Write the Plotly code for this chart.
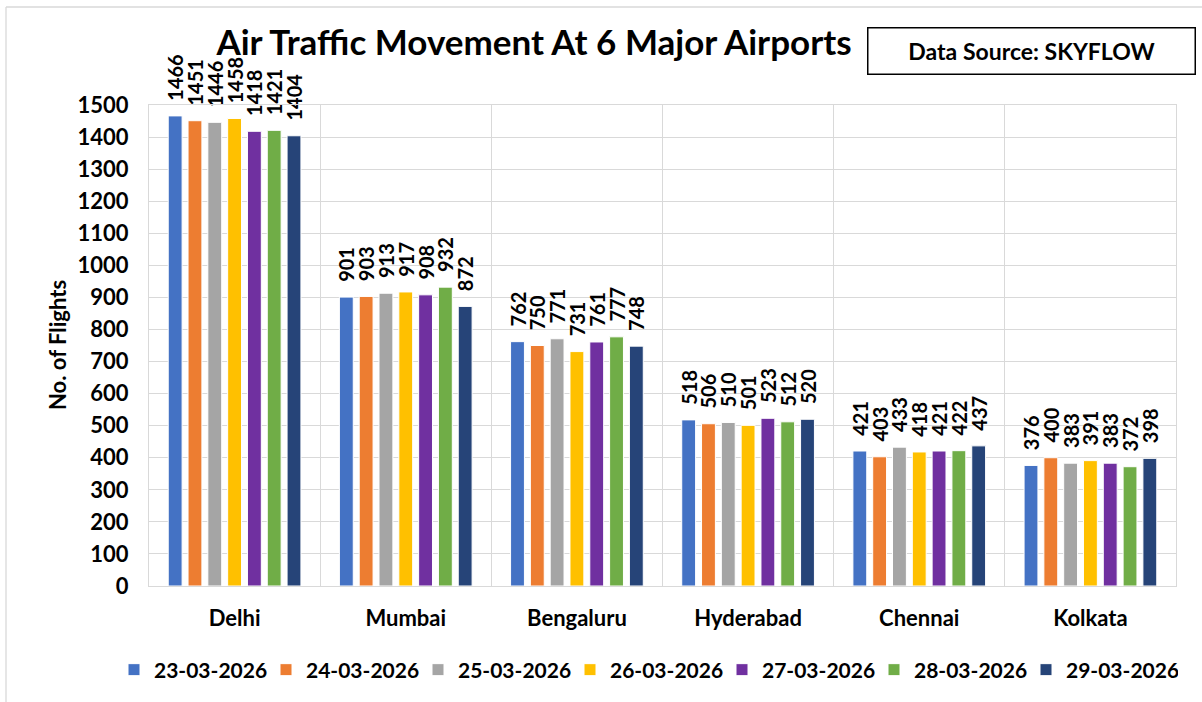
import plotly.graph_objects as go

airports = ["Delhi", "Mumbai", "Bengaluru", "Hyderabad", "Chennai", "Kolkata"]
dates = ["23-03-2026", "24-03-2026", "25-03-2026", "26-03-2026",
         "27-03-2026", "28-03-2026", "29-03-2026"]

d_23 = [1466, 901, 762, 518, 421, 376]
d_24 = [1451, 903, 750, 506, 403, 400]
d_25 = [1446, 913, 771, 510, 433, 383]
d_26 = [1458, 917, 731, 501, 418, 391]
d_27 = [1418, 908, 761, 523, 421, 383]
d_28 = [1421, 932, 777, 512, 422, 372]
d_29 = [1404, 872, 748, 520, 437, 398]

series = [d_23, d_24, d_25, d_26, d_27, d_28, d_29]
colors = ["#4472C4", "#ED7D31", "#A5A5A5", "#FFC000", "#7030A0", "#70AD47", "#264478"]

FONT = "Lato"
grid = "#D9D9D9"

fig = go.Figure()
for name, vals, col in zip(dates, series, colors):
    fig.add_trace(go.Bar(
        x=airports, y=vals, name=name,
        marker=dict(color=col, line=dict(color="white", width=1)),
        text=vals,
        texttemplate="\u00a0\u00a0\u2009%{text}",
        textposition="outside",
        textangle=-90,
        constraintext="none",
        cliponaxis=False,
        textfont=dict(family=FONT, size=20, color="black", weight="bold"),
    ))

fig.update_layout(
    width=1202, height=702,
    margin=dict(l=149, r=26, t=105, b=116, autoexpand=False),
    paper_bgcolor="white", plot_bgcolor="white",
    barmode="group", bargap=0.19, bargroupgap=0.3,
    showlegend=True,
    title=dict(
        text="Air Traffic Movement At 6 Major Airports",
        x=534 / 1202, xanchor="center",
        y=1 - 43 / 702, yanchor="middle",
        font=dict(family=FONT, size=35, color="black", weight="bold"),
    ),
    legend=dict(
        orientation="h", xref="paper", yref="paper",
        x=(114 - 149) / 1027, xanchor="left",
        y=-(670 - 586) / 481, yanchor="middle",
        font=dict(family=FONT, size=21, color="black", weight="bold"),
        itemwidth=30, traceorder="normal",
        entrywidthmode="pixels", entrywidth=107,
    ),
    xaxis=dict(
        type="category", tickson="boundaries", automargin=False,
        showgrid=True, gridcolor=grid, gridwidth=1.3,
        showline=True, linecolor=grid, linewidth=1.3, mirror=True,
        ticks="", ticklabelstandoff=12,
        tickfont=dict(family=FONT, size=22, color="black", weight="bold"),
    ),
    yaxis=dict(
        range=[0, 1500], dtick=100, automargin=False,
        showgrid=True, gridcolor=grid, gridwidth=1.3,
        showline=True, linecolor=grid, linewidth=1.3, mirror=True,
        zeroline=False,
        ticks="", ticklabelstandoff=15,
        tickfont=dict(family=FONT, size=22, color="black", weight="bold"),
    ),
    annotations=[
        dict(text="No. of Flights", textangle=-90,
             xref="paper", yref="paper",
             x=(57 - 149) / 1027, y=(586 - 345) / 481,
             xanchor="center", yanchor="middle", showarrow=False,
             font=dict(family=FONT, size=22, color="black", weight="bold")),
        dict(text="Data Source: SKYFLOW",
             xref="paper", yref="paper",
             x=(1031.5 - 149) / 1027, y=(586 - 51) / 481,
             xanchor="center", yanchor="middle", showarrow=False,
             width=326, height=45, borderpad=0,
             bordercolor="black", borderwidth=1.5, bgcolor="white",
             font=dict(family=FONT, size=23, color="black", weight="bold")),
    ],
    shapes=[
        dict(type="line", xref="paper", yref="paper",
             x0=(6 - 149) / 1027, x1=(6 - 149) / 1027,
             y0=(586 - 7) / 481, y1=(586 - 702) / 481,
             line=dict(color=grid, width=1.3)),
        dict(type="line", xref="paper", yref="paper",
             x0=(6 - 149) / 1027, x1=(1202 - 149) / 1027,
             y0=(586 - 7) / 481, y1=(586 - 7) / 481,
             line=dict(color=grid, width=1.3)),
    ],
)

fig.write_html("out.html", config={"displayModeBar": False},
               post_script="document.body.style.margin='0';")
